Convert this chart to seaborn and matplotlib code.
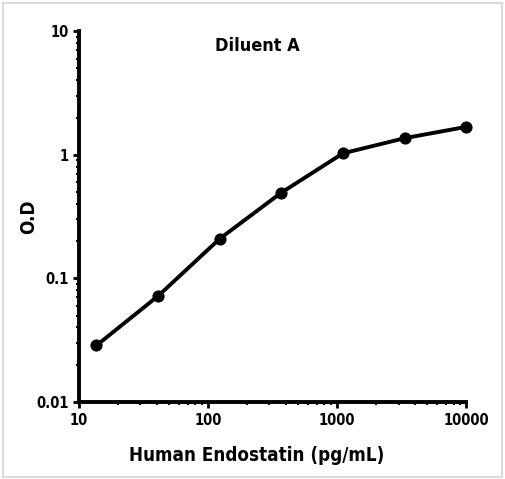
import numpy as np
import pandas as pd
import seaborn as sns
import matplotlib.pyplot as plt
from matplotlib.patches import Rectangle
from matplotlib.ticker import LogLocator, FixedLocator, NullFormatter

# Curva padrão - Diluent A
concentracao = [13.7, 41.2, 123.5, 370.4, 1111.1, 3333.3, 10000.0]
densidade_otica = [0.0286, 0.072, 0.209, 0.493, 1.026, 1.36, 1.68]

df = pd.DataFrame({'conc': concentracao, 'od': densidade_otica})

sns.set_style('white')
plt.rcParams['font.family'] = ['DejaVu Sans']
plt.rcParams['font.stretch'] = 'condensed'
plt.rcParams['text.color'] = 'black'

fig = plt.figure(figsize=(5.05, 4.79), dpi=100)
ax = fig.add_axes([0.156, 0.161, 0.767, 0.774])

sns.lineplot(data=df, x='conc', y='od', ax=ax, color='black', linewidth=2.8,
             marker='o', markersize=8, markeredgecolor='black', clip_on=False)

ax.set_xscale('log')
ax.set_yscale('log')
ax.set_xlim(10, 10000)
ax.set_ylim(0.01, 10)

ax.xaxis.set_major_locator(FixedLocator([10, 100, 1000, 10000]))
ax.yaxis.set_major_locator(FixedLocator([0.01, 0.1, 1, 10]))
ax.set_xticklabels(['10', '100', '1000', '10000'])
ax.set_yticklabels(['0.01', '0.1', '1', '10'])
ax.xaxis.set_minor_locator(LogLocator(base=10, subs=np.arange(2, 10)))
ax.yaxis.set_minor_locator(LogLocator(base=10, subs=np.arange(2, 10)))
ax.xaxis.set_minor_formatter(NullFormatter())
ax.yaxis.set_minor_formatter(NullFormatter())

ax.tick_params(axis='both', which='major', direction='out', length=4, width=2,
               labelsize=10.5, colors='black')
ax.tick_params(axis='x', which='major', pad=4)
ax.tick_params(axis='y', which='major', pad=3)
ax.tick_params(axis='both', which='minor', direction='out', length=2, width=1.5, colors='black')
ax.tick_params(axis='x', which='both', bottom=True)
ax.tick_params(axis='y', which='both', left=True)
for lab in ax.get_xticklabels() + ax.get_yticklabels():
    lab.set_fontweight('bold')

for lado in ['top', 'right']:
    ax.spines[lado].set_visible(False)
for lado in ['left', 'bottom']:
    ax.spines[lado].set_linewidth(2.8)
    ax.spines[lado].set_color('black')

ax.set_xlabel('Human Endostatin (pg/mL)', fontsize=13.5, fontweight='bold', color='black')
ax.set_ylabel('O.D', fontsize=13.5, fontweight='bold', color='black')
ax.xaxis.set_label_coords(0.46, -0.12)
ax.yaxis.set_label_coords(-0.105, 0.5)
ax.text(0.46, 0.985, 'Diluent A', transform=ax.transAxes, ha='center', va='top',
        fontsize=13, fontweight='bold', color='black')

fig.patches.append(Rectangle((0.006, 0.004), 0.988, 0.99, transform=fig.transFigure,
                             fill=False, edgecolor='#d9d9d9', linewidth=1.5))

plt.savefig('out.png', dpi=100)
